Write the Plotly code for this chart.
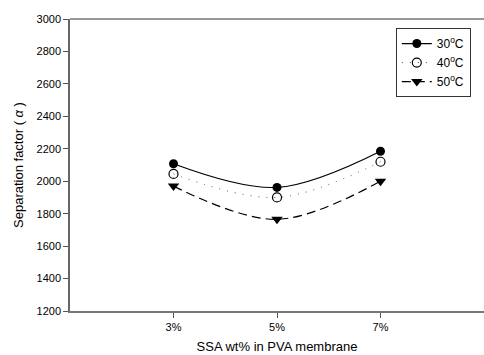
import plotly.graph_objects as go

# SSA loading in the PVA membrane (x categories)
ssa_loading = ["3%", "5%", "7%"]
x_pos = [1, 2, 3]

# Separation factor at each feed temperature
sep_30c = [2108, 1962, 2185]
sep_40c = [2045, 1900, 2120]
sep_50c = [1970, 1765, 2000]

y_ticks = [1200, 1400, 1600, 1800, 2000, 2200, 2400, 2600, 2800, 3000]

series = [
    ("30<sup>o</sup>C", sep_30c, dict(color="black", width=1.2, dash="solid"),
     dict(symbol="circle", color="black", size=9)),
    ("40<sup>o</sup>C", sep_40c, dict(color="#555555", width=1, dash="1px,7px"),
     dict(symbol="circle-open", color="black", size=9, line=dict(width=1.2, color="black"))),
    ("50<sup>o</sup>C", sep_50c, dict(color="black", width=1.2, dash="9px,5px"),
     dict(symbol="triangle-down", color="black", size=10)),
]

fig = go.Figure()
for name, vals, line, marker in series:
    fig.add_trace(go.Scatter(
        x=x_pos, y=vals, name=name, mode="lines+markers",
        line=dict(shape="spline", smoothing=1.0, **line),
        marker=marker,
    ))

fig.update_layout(
    width=484, height=355,
    margin=dict(l=70, r=0, t=19, b=44),
    paper_bgcolor="white", plot_bgcolor="white",
    font=dict(family="Liberation Sans, Arial, sans-serif", color="black", size=11),
    showlegend=True,
    legend=dict(
        x=0.787, y=0.969, xanchor="left", yanchor="top",
        bordercolor="#333333", borderwidth=1, bgcolor="white",
        font=dict(size=12), itemwidth=30, tracegroupgap=0,
    ),
    xaxis=dict(
        range=[0, 4], tickmode="array", tickvals=x_pos, ticktext=ssa_loading,
        showgrid=False, zeroline=False, showline=True, linecolor="#777777", linewidth=1.5,
        ticks="outside", ticklen=5, tickcolor="#555555",
        title=dict(text="SSA wt% in PVA membrane", font=dict(size=13), standoff=10),
        fixedrange=True,
    ),
    yaxis=dict(
        range=[1200, 3000], tickvals=y_ticks,
        showgrid=False, zeroline=False, showline=True, linecolor="#666666", linewidth=1.5,
        ticks="outside", ticklen=5, tickcolor="#555555",
        title=dict(text="Separation factor ( <i>α</i> )", font=dict(size=13), standoff=10),
        fixedrange=True,
    ),
    shapes=[dict(type="line", xref="paper", yref="paper", x0=0, x1=1, y0=1, y1=1,
                 line=dict(color="#777777", width=1.5))],
)

fig.write_html("out.html")
